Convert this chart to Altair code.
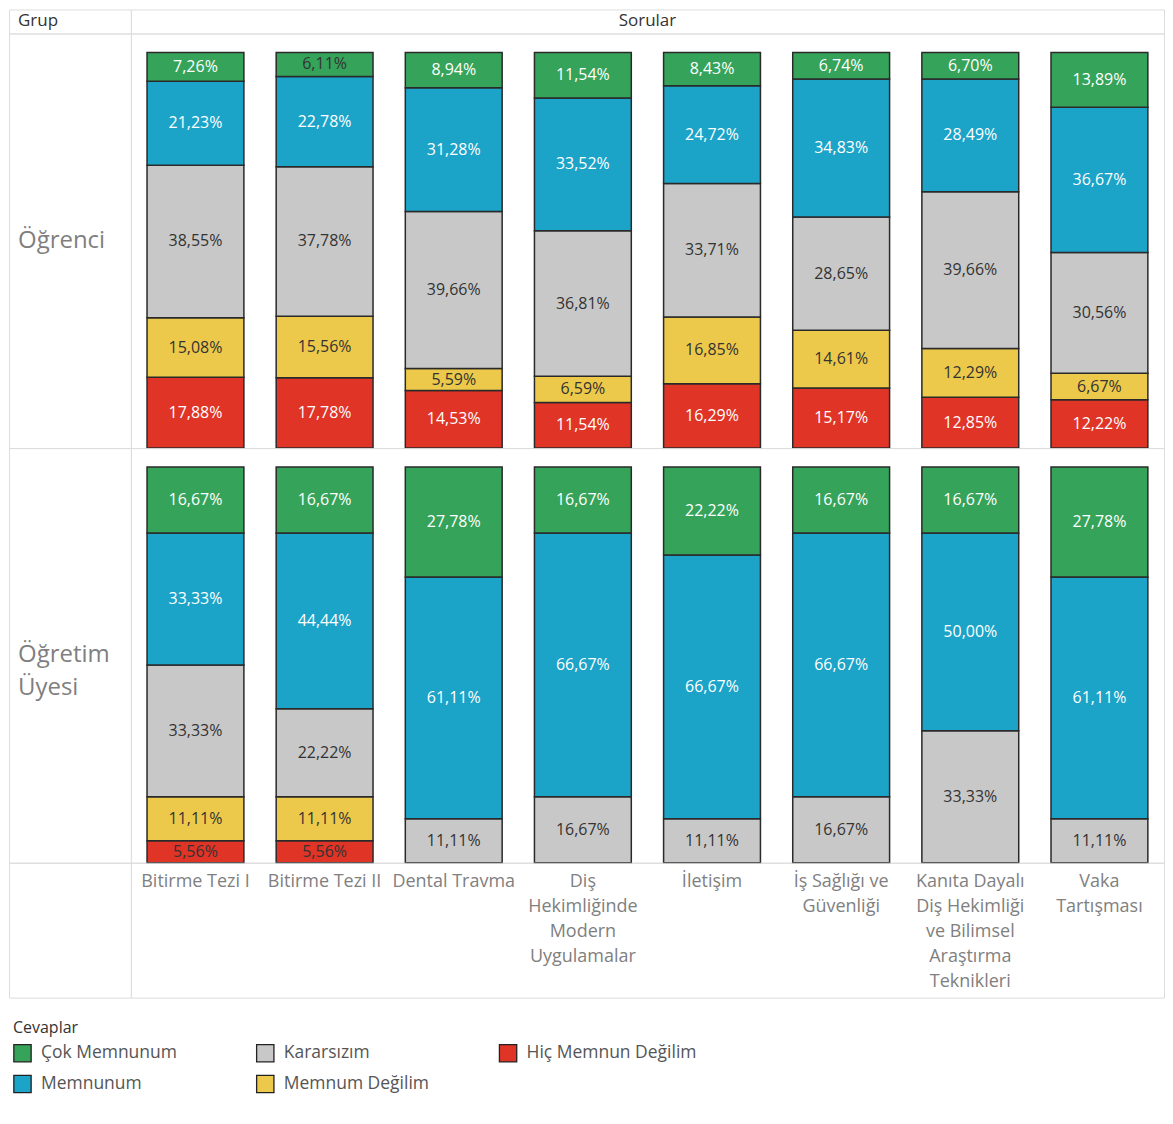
import altair as alt
import pandas as pd

FONT = "Open Sans"

sorular = [
    "Bitirme Tezi I",
    "Bitirme Tezi II",
    "Dental Travma",
    "Diş Hekimliğinde Modern Uygulamalar",
    "İletişim",
    "İş Sağlığı ve Güvenliği",
    "Kanıta Dayalı Diş Hekimliği ve Bilimsel Araştırma Teknikleri",
    "Vaka Tartışması",
]
sorular_etiket = [
    "Bitirme Tezi I",
    "Bitirme Tezi II",
    "Dental Travma",
    "Diş\nHekimliğinde\nModern\nUygulamalar",
    "İletişim",
    "İş Sağlığı ve\nGüvenliği",
    "Kanıta Dayalı\nDiş Hekimliği\nve Bilimsel\nAraştırma\nTeknikleri",
    "Vaka\nTartışması",
]

gruplar = ["Öğrenci", "Öğretim Üyesi"]
grup_etiket = ["Öğrenci", "Öğretim\nÜyesi"]

# stacking order bottom -> top
cevaplar = ["Hiç Memnun Değilim", "Memnum Değilim", "Kararsızım", "Memnunum", "Çok Memnunum"]

# Öğrenci
ogr_cok = [7.26, 6.11, 8.94, 11.54, 8.43, 6.74, 6.70, 13.89]
ogr_memnun = [21.23, 22.78, 31.28, 33.52, 24.72, 34.83, 28.49, 36.67]
ogr_kararsiz = [38.55, 37.78, 39.66, 36.81, 33.71, 28.65, 39.66, 30.56]
ogr_degil = [15.08, 15.56, 5.59, 6.59, 16.85, 14.61, 12.29, 6.67]
ogr_hic = [17.88, 17.78, 14.53, 11.54, 16.29, 15.17, 12.85, 12.22]

# Öğretim Üyesi
ou_cok = [16.67, 16.67, 27.78, 16.67, 22.22, 16.67, 16.67, 27.78]
ou_memnun = [33.33, 44.44, 61.11, 66.67, 66.67, 66.67, 50.00, 61.11]
ou_kararsiz = [33.33, 22.22, 11.11, 16.67, 11.11, 16.67, 33.33, 11.11]
ou_degil = [11.11, 11.11, 0, 0, 0, 0, 0, 0]
ou_hic = [5.56, 5.56, 0, 0, 0, 0, 0, 0]

legend_order = ["Çok Memnunum", "Memnunum", "Kararsızım", "Memnum Değilim", "Hiç Memnun Değilim"]
legend_colors = ["#35A45A", "#1BA3C8", "#C8C8C8", "#ECC94A", "#E03427"]

series = {
    "Öğrenci": [ogr_hic, ogr_degil, ogr_kararsiz, ogr_memnun, ogr_cok],
    "Öğretim Üyesi": [ou_hic, ou_degil, ou_kararsiz, ou_memnun, ou_cok],
}

rows = []
for g in gruplar:
    for k, cev in enumerate(cevaplar):
        for i, s in enumerate(sorular):
            rows.append({"Grup": g, "Sorular": s, "Cevap": cev, "ord": k,
                         "Yuzde": series[g][k][i]})
df = pd.DataFrame(rows)

lab_df = pd.DataFrame({"Sorular": sorular, "Etiket": sorular_etiket})

W_LEFT = 122
W_MAIN = 1034
H_HEAD = 24
H_ROW = 415
H_LAB = 135
GRID = "#d3d3d3"

xenc = alt.X("Sorular:N", sort=sorular,
             scale=alt.Scale(paddingInner=0.25, paddingOuter=0.125), axis=None)
yscale = alt.Scale(domain=[0, 104.8], nice=False, zero=True)


def text_cell(txt, w, h, x, y, size, color, align="left", lh=33):
    return alt.Chart(alt.Data(values=[{"t": txt}])).mark_text(
        align=align, baseline="middle", fontSize=size, color=color, font=FONT,
        lineBreak="\n", lineHeight=lh
    ).encode(x=alt.value(x), y=alt.value(y), text="t:N").properties(width=w, height=h)


def bar_panel(g):
    base = alt.Chart(df).transform_filter(
        alt.datum.Grup == g
    ).transform_filter(
        alt.datum.Yuzde > 0
    ).transform_stack(
        stack="Yuzde", groupby=["Sorular"], as_=["v0", "v1"],
        sort=[alt.SortField("ord", order="ascending")]
    ).transform_calculate(
        mid="(datum.v0 + datum.v1) / 2",
        lab="replace(format(datum.Yuzde, '.2f'), '.', ',') + '%'",
        dark="datum.Cevap == 'Kararsızım' || datum.Cevap == 'Memnum Değilim' || datum.Yuzde < 6.5",
    )
    bars = base.mark_bar(stroke="#2a2a2a", strokeWidth=1.5).encode(
        x=xenc,
        y=alt.Y("v0:Q", scale=yscale, axis=None),
        y2="v1:Q",
        color=alt.Color(
            "Cevap:N",
            scale=alt.Scale(domain=legend_order, range=legend_colors),
            legend=alt.Legend(
                title="Cevaplar", orient="none", legendX=4, legendY=1011,
                columns=3, columnPadding=42, rowPadding=8, labelLimit=400,
                labelOffset=9, gridAlign="all",
                symbolType="square", symbolSize=300, symbolStrokeColor="#222222",
                symbolStrokeWidth=1.3, symbolOpacity=1,
                labelFont=FONT, labelFontSize=17.5, labelColor="#555555",
                titleFont=FONT, titleFontSize=16, titleColor="#333333",
                titleFontWeight="normal", titlePadding=8,
            ),
        ),
    )
    texts = base.mark_text(font=FONT, fontSize=16, baseline="middle").encode(
        x=xenc,
        y=alt.Y("mid:Q", scale=yscale, axis=None),
        text="lab:N",
        color=alt.condition("datum.dark", alt.value("#333333"), alt.value("#ffffff")),
    )
    return alt.layer(bars, texts).properties(width=W_MAIN, height=H_ROW)


label_panel = alt.Chart(lab_df).mark_text(
    font=FONT, fontSize=18, color="#808080", baseline="top", align="center",
    lineBreak="\n", lineHeight=25
).encode(
    x=xenc, y=alt.value(10), text="Etiket:N"
).properties(width=W_MAIN, height=H_LAB)

empty_cell = alt.Chart(alt.Data(values=[{"t": ""}])).mark_text().encode(
    x=alt.value(0), y=alt.value(0), text="t:N"
).properties(width=W_LEFT, height=H_LAB)

chart = alt.concat(
    text_cell("Grup", W_LEFT, H_HEAD, 9, 12, 17, "#333333"),
    text_cell("Sorular", W_MAIN, H_HEAD, W_MAIN / 2, 12, 17, "#333333", align="center"),
    text_cell(grup_etiket[0], W_LEFT, H_ROW, 9, H_ROW / 2, 24, "#7f7f7f"),
    bar_panel(gruplar[0]),
    text_cell(grup_etiket[1], W_LEFT, H_ROW, 9, H_ROW / 2, 24, "#7f7f7f"),
    bar_panel(gruplar[1]),
    empty_cell,
    label_panel,
    columns=2, spacing=0, bounds="flush", align="each",
).properties(
    padding=0
).configure_view(
    stroke=GRID, strokeWidth=1
).configure(
    background="white"
)

chart.save("out.html", embed_options={"renderer": "svg", "actions": False})
